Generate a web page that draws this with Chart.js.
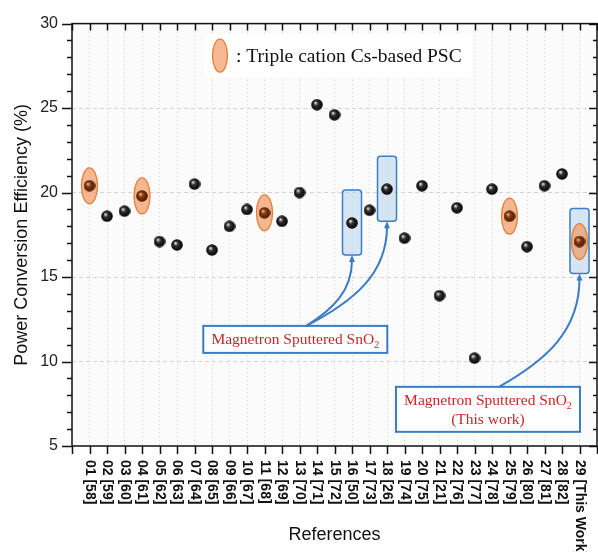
<!DOCTYPE html>
<html>
<head>
<meta charset="utf-8">
<script src="https://cdn.jsdelivr.net/npm/chart.js@4.4.1/dist/chart.umd.min.js"></script>
<style>
  html, body { margin: 0; padding: 0; background: #fff; overflow: hidden; }
  #wrap { width: 604px; height: 552px; }
</style>
</head>
<body>
<div id="wrap"><canvas id="pceChart" width="604" height="552"></canvas></div>
<script>
// ---- data ----
const refLabels = ['01 [58]', '02 [59]', '03 [60]', '04 [61]', '05 [62]', '06 [63]', '07 [64]', '08 [65]',
    '09 [66]', '10 [67]', '11 [68]', '12 [69]', '13 [70]', '14 [71]', '15 [72]', '16 [50]', '17 [73]',
    '18 [26]', '19 [74]', '20 [75]', '21 [21]', '22 [76]', '23 [77]', '24 [78]', '25 [79]', '26 [80]',
    '27 [81]', '28 [82]', '29 [This Work]'];
const pceValues = [20.4, 18.6, 18.9, 19.8, 17.1, 16.9, 20.5, 16.6, 18.0, 19.0, 18.8, 18.3, 20.0, 25.2,
    24.6, 18.2, 18.95, 20.2, 17.3, 20.4, 13.9, 19.1, 10.2, 20.2, 18.6, 16.8, 20.4, 21.1, 17.1];
const tripleCation = [1, 4, 11, 25, 29];   // reference numbers with Cs-based triple cation
const sputtered = [16, 18, 29];            // magnetron sputtered SnO2
const yTicks = [5, 10, 15, 20, 25, 30];

// callout boxes, placed in data units (x = reference no., y = PCE)
const notes = [
    { x: 12.76, y: 11.31, h: 27, lines: ['SnO2'], targets: [16, 18] },
    { x: 23.77, y: 7.17, h: 45, lines: ['SnO2', '(This work)'], targets: [29] }
];

const serif = '"Liberation Serif", "Times New Roman", serif';
const sans = '"Liberation Sans", Arial, sans-serif';

// little shaded balls used as point markers
function makeSphere(light, mid, dark) {
    const c = document.createElement('canvas');
    c.width = c.height = 12;
    const g = c.getContext('2d');
    const grad = g.createRadialGradient(4.3, 4, 0.3, 6, 6, 6.2);
    grad.addColorStop(0, light);
    grad.addColorStop(0.35, mid);
    grad.addColorStop(1, dark);
    g.fillStyle = grad;
    g.beginPath();
    g.arc(6, 6, 5.8, 0, Math.PI * 2);
    g.fill();
    return c;
}
const blackBall = makeSphere('#e6e6e6', '#2e2e2e', '#000');
const brownBall = makeSphere('#f2bb94', '#8a3a10', '#3e1500');

function roundRect(ctx, x, y, w, h, r) {
    ctx.beginPath();
    if (ctx.roundRect) ctx.roundRect(x, y, w, h, r);
    else ctx.rect(x, y, w, h);
}

function drawSnO2(ctx, cx, baseY, size) {
    const main = 'Magnetron Sputtered SnO';
    ctx.font = size + 'px ' + serif;
    const w1 = ctx.measureText(main).width;
    ctx.font = (size * 0.65) + 'px ' + serif;
    const w2 = ctx.measureText('2').width;
    const x0 = cx - (w1 + w2) / 2;
    ctx.textAlign = 'left';
    ctx.textBaseline = 'alphabetic';
    ctx.font = size + 'px ' + serif;
    ctx.fillText(main, x0, baseY);
    ctx.font = (size * 0.65) + 'px ' + serif;
    ctx.fillText('2', x0 + w1, baseY + size * 0.22);
}

function arrow(ctx, sx, sy, ex, ey) {
    const dx = ex - sx, dy = sy - ey;
    ctx.beginPath();
    ctx.moveTo(sx, sy);
    ctx.bezierCurveTo(sx + 0.6 * dx, sy - 0.24 * dy, ex, ey + 0.5 * dy, ex, ey + 5);
    ctx.stroke();
    ctx.beginPath();
    ctx.moveTo(ex, ey);
    ctx.lineTo(ex - 3, ey + 7);
    ctx.lineTo(ex + 3, ey + 7);
    ctx.closePath();
    ctx.fill();
}

const decor = {
    id: 'decor',
    beforeDraw(chart) {
        const { ctx, chartArea: a } = chart;
        ctx.save();
        ctx.fillStyle = '#fff';
        ctx.fillRect(0, 0, chart.width, chart.height);
        ctx.fillStyle = '#fbfbfb';
        ctx.fillRect(a.left, a.top, a.right - a.left, a.bottom - a.top);
        ctx.restore();
    },
    beforeDatasetsDraw(chart) {
        const { ctx, chartArea: a } = chart;
        const xs = chart.scales.x, ys = chart.scales.y;
        ctx.save();
        // blue boxes behind the sputtered SnO2 entries
        sputtered.forEach(n => {
            const px = xs.getPixelForValue(n), py = ys.getPixelForValue(pceValues[n - 1]);
            roundRect(ctx, px - 9.5, py - 33, 19, 65, 3);
            ctx.fillStyle = 'rgba(189,215,240,0.6)';
            ctx.fill();
            ctx.lineWidth = 1.5;
            ctx.strokeStyle = '#3d7fc4';
            ctx.stroke();
        });
        // orange ellipses behind triple cation entries
        tripleCation.forEach(n => {
            const px = xs.getPixelForValue(n), py = ys.getPixelForValue(pceValues[n - 1]);
            ctx.beginPath();
            ctx.ellipse(px, py, 8, 18, 0, 0, Math.PI * 2);
            ctx.fillStyle = 'rgba(240,150,95,0.68)';
            ctx.fill();
            ctx.lineWidth = 1.3;
            ctx.strokeStyle = '#e67e36';
            ctx.stroke();
        });
        // legend
        const lx = a.left + 148, ly = a.top + 32;
        ctx.font = '19.5px ' + serif;
        const legText = ': Triple cation Cs-based PSC';
        const tw = ctx.measureText(legText).width;
        ctx.fillStyle = '#fff';
        ctx.fillRect(lx - 16, ly - 21, tw + 42, 42);
        ctx.beginPath();
        ctx.ellipse(lx, ly, 7.5, 16.5, 0, 0, Math.PI * 2);
        ctx.fillStyle = 'rgba(240,150,95,0.68)';
        ctx.fill();
        ctx.lineWidth = 1.3;
        ctx.strokeStyle = '#e67e36';
        ctx.stroke();
        ctx.fillStyle = '#111';
        ctx.textAlign = 'left';
        ctx.textBaseline = 'middle';
        ctx.fillText(legText, lx + 16, ly + 1);
        ctx.restore();
    },
    afterDraw(chart) {
        const { ctx, chartArea: a } = chart;
        const xs = chart.scales.x, ys = chart.scales.y;
        ctx.save();
        // callouts
        notes.forEach(nt => {
            const cx = xs.getPixelForValue(nt.x), cy = ys.getPixelForValue(nt.y);
            const w = 184;
            const top = cy - nt.h / 2;
            ctx.fillStyle = '#fff';
            ctx.fillRect(cx - w / 2, top, w, nt.h);
            ctx.lineWidth = 2;
            ctx.strokeStyle = '#3b7dc4';
            ctx.strokeRect(cx - w / 2, top, w, nt.h);
            ctx.fillStyle = '#c62828';
            if (nt.lines.length === 1) {
                drawSnO2(ctx, cx, cy + 5, 15.5);
            } else {
                drawSnO2(ctx, cx, cy - 4, 15.5);
                ctx.font = '15.5px ' + serif;
                ctx.textAlign = 'center';
                ctx.fillText(nt.lines[1], cx, cy + 15);
            }
            ctx.strokeStyle = '#3b7dc4';
            ctx.fillStyle = '#3b7dc4';
            ctx.lineWidth = 2;
            nt.targets.forEach(n => {
                const ex = xs.getPixelForValue(n);
                const ey = ys.getPixelForValue(pceValues[n - 1]) + 32;
                arrow(ctx, cx + 11, top, ex, ey);
            });
        });

        // axis frame and ticks
        ctx.strokeStyle = '#111';
        ctx.lineWidth = 1.5;
        ctx.strokeRect(a.left, a.top, a.right - a.left, a.bottom - a.top);
        ctx.beginPath();
        for (let v = 0; v <= 30; v++) {
            const px = Math.round(xs.getPixelForValue(v)) + 0.5;
            ctx.moveTo(px, a.bottom);
            ctx.lineTo(px, a.bottom + 8);
            ctx.moveTo(px, a.top);
            ctx.lineTo(px, a.top + 7);
        }
        for (let v = yTicks[0]; v <= yTicks[yTicks.length - 1]; v++) {
            const py = Math.round(ys.getPixelForValue(v)) + 0.5;
            const major = yTicks.includes(v);
            ctx.moveTo(a.left - (major ? 10 : 5), py);
            ctx.lineTo(a.left, py);
            ctx.moveTo(a.right - (major ? 8 : 4), py);
            ctx.lineTo(a.right, py);
        }
        ctx.stroke();

        // rotated category labels
        ctx.font = 'bold 14px ' + sans;
        ctx.fillStyle = '#111';
        ctx.textAlign = 'left';
        ctx.textBaseline = 'middle';
        refLabels.forEach((lab, i) => {
            const px = xs.getPixelForValue(i + 1);
            ctx.save();
            ctx.translate(px, a.bottom + 14);
            ctx.rotate(Math.PI / 2);
            ctx.fillText(lab, 0, 0);
            ctx.restore();
        });
        ctx.restore();
    }
};

const points = pceValues.map((v, i) => ({ x: i + 1, y: v }));

new Chart(document.getElementById('pceChart'), {
    type: 'scatter',
    data: {
        datasets: [{
            label: 'PCE',
            data: points,
            pointStyle: ctx => tripleCation.includes(ctx.dataIndex + 1) ? brownBall : blackBall,
            pointRadius: 6
        }]
    },
    options: {
        responsive: false,
        devicePixelRatio: 1,
        animation: false,
        layout: { padding: { top: 20, right: 3, left: 0, bottom: 0 } },
        plugins: { legend: { display: false }, tooltip: { enabled: false } },
        scales: {
            x: {
                type: 'linear',
                min: 0,
                max: 30,
                afterFit: s => { s.height = 106; },
                ticks: { display: false, stepSize: 1 },
                grid: {
                    drawTicks: false,
                    lineWidth: 1,
                    color: c => (c.tick.value === 0 || c.tick.value === 30) ? 'rgba(0,0,0,0)' : '#dcdcdc'
                },
                border: { display: false, dash: [1.5, 2.5] },
                title: {
                    display: true,
                    text: 'References',
                    color: '#111',
                    font: { family: sans, size: 18 },
                    padding: { top: 0, bottom: 6 }
                }
            },
            y: {
                min: yTicks[0],
                max: yTicks[yTicks.length - 1],
                afterFit: s => { s.width = 72; },
                afterBuildTicks: s => { s.ticks = yTicks.map(v => ({ value: v })); },
                ticks: { padding: 14, color: '#222', font: { family: sans, size: 16 } },
                grid: {
                    drawTicks: false,
                    lineWidth: 1,
                    color: c => (c.tick.value === 5 || c.tick.value === 30) ? 'rgba(0,0,0,0)' : '#d4d4d4'
                },
                border: { display: false, dash: [4, 3] },
                title: {
                    display: true,
                    text: 'Power Conversion Efficiency (%)',
                    color: '#111',
                    font: { family: sans, size: 18 },
                    padding: { top: 11, bottom: 0 }
                }
            }
        }
    },
    plugins: [decor]
});
</script>
</body>
</html>
